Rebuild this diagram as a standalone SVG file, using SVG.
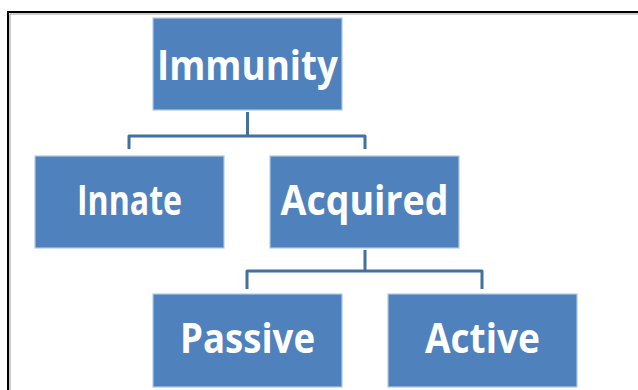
<svg xmlns="http://www.w3.org/2000/svg" width="638" height="390" viewBox="0 0 638 390">
  <style>
    .box { fill: #4F81BD; stroke: #b3c8e4; stroke-width: 1.2; }
    .lbl { fill: #ffffff; font-family: "Open Sans", "Liberation Sans", sans-serif; font-weight: 700; font-size: 42px; text-anchor: middle; }
    .conn { fill: none; stroke: #41719C; stroke-width: 3; stroke-linejoin: round; }
  </style>
  <rect x="0" y="0" width="638" height="390" fill="#ffffff"/>
  <g id="frame">
    <path d="M10,390 V14 H638" fill="none" stroke="#9a9a9a" stroke-width="1"/>
    <path d="M8,390 V12 H638" fill="none" stroke="#000000" stroke-width="2"/>
  </g>
  <g id="connectors">
    <path class="conn" d="M247.5,112 V136 M129,149 V136 H365 V149"/>
    <path class="conn" d="M365,250 V271 M247,289 V271 H482 V289"/>
  </g>
  <g id="immunity">
    <rect class="box" x="153" y="18" width="189" height="92"/>
    <text class="lbl" x="247.5" y="80" textLength="181" lengthAdjust="spacingAndGlyphs">Immunity</text>
  </g>
  <g id="innate">
    <rect class="box" x="35" y="156" width="189" height="92"/>
    <text class="lbl" x="129.5" y="215" textLength="105" lengthAdjust="spacingAndGlyphs">Innate</text>
  </g>
  <g id="acquired">
    <rect class="box" x="270" y="156" width="189" height="92"/>
    <text class="lbl" x="364.5" y="215" textLength="168" lengthAdjust="spacingAndGlyphs">Acquired</text>
  </g>
  <g id="passive">
    <rect class="box" x="153" y="294" width="189" height="93"/>
    <text class="lbl" x="247.5" y="353" textLength="135" lengthAdjust="spacingAndGlyphs">Passive</text>
  </g>
  <g id="active">
    <rect class="box" x="388" y="294" width="189" height="93"/>
    <text class="lbl" x="482.5" y="353" textLength="115" lengthAdjust="spacingAndGlyphs">Active</text>
  </g>
</svg>
